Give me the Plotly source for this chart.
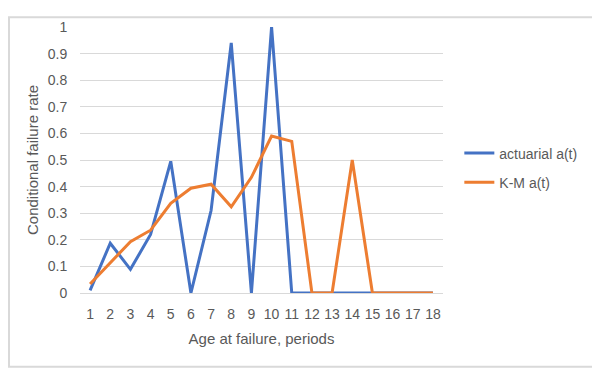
import plotly.graph_objects as go

periods = [str(i) for i in range(1, 19)]
actuarial = [0.01, 0.187, 0.089, 0.22, 0.495, 0.0, 0.31, 0.94, 0.0, 1.0, 0.0, 0.0, 0.0, 0.0, 0.0, 0.0, 0.0, 0.0]
km = [0.034, 0.113, 0.193, 0.236, 0.337, 0.394, 0.409, 0.324, 0.435, 0.59, 0.57, 0.0, 0.0, 0.5, 0.0, 0.0, 0.0, 0.0]
y_ticks = [0, 0.1, 0.2, 0.3, 0.4, 0.5, 0.6, 0.7, 0.8, 0.9, 1]
y_tick_labels = ["0", "0.1", "0.2", "0.3", "0.4", "0.5", "0.6", "0.7", "0.8", "0.9", "1"]

FONT = "Liberation Sans"
GRAY = "#595959"

fig = go.Figure()
fig.add_trace(go.Scatter(x=periods, y=actuarial, mode="lines", name="actuarial a(t)",
                         line=dict(color="#4472C4", width=3), legendgroup="a"))
fig.add_trace(go.Scatter(x=periods, y=km, mode="lines", name="K-M a(t)",
                         line=dict(color="#ED7D31", width=3), legendgroup="b"))

# page body has an 8px margin, so the figure is drawn 8px in from the window corner
OFF = 8
W, H = 600 - OFF, 372 - OFF
L, R, T, B = 80 - OFF, 157, 19 - OFF, 79
pw, ph = W - L - R, H - T - B

fig.update_layout(
    width=W, height=H,
    margin=dict(l=L, r=R, t=T, b=B),
    paper_bgcolor="white", plot_bgcolor="white",
    font=dict(family=FONT, size=14, color=GRAY),
    showlegend=True,
    legend=dict(x=1.045, y=0.47, xanchor="left", yanchor="middle",
                font=dict(family=FONT, size=14, color=GRAY),
                tracegroupgap=8, traceorder="grouped", bgcolor="rgba(0,0,0,0)"),
    xaxis=dict(type="category", range=[-0.5, 17.5], showgrid=False,
               showline=True, linecolor="#D9D9D9", linewidth=1,
               ticks="outside", ticklen=8, tickcolor="rgba(0,0,0,0)",
               tickfont=dict(size=14, color=GRAY),
               title=dict(text="Age at failure, periods", font=dict(size=15, color=GRAY), standoff=12)),
    yaxis=dict(range=[0, 1], tickvals=y_ticks, ticktext=y_tick_labels,
               showgrid=True, gridcolor="#D9D9D9", gridwidth=1, zeroline=False,
               showline=False, ticks="outside", ticklen=9, tickcolor="rgba(0,0,0,0)",
               tickfont=dict(size=14, color=GRAY),
               title=dict(text="Conditional failure rate", font=dict(size=15, color=GRAY), standoff=5)),
)

# outer chart border
fig.add_shape(type="rect", xref="paper", yref="paper",
              x0=(1 - L) / pw, x1=(W - 3 - L) / pw,
              y0=-(B - 3) / ph, y1=(H - 1 - B) / ph,
              line=dict(color="#D9D9D9", width=2), fillcolor="rgba(0,0,0,0)", layer="below")

fig.write_html("out.html", config={"displayModeBar": False})
